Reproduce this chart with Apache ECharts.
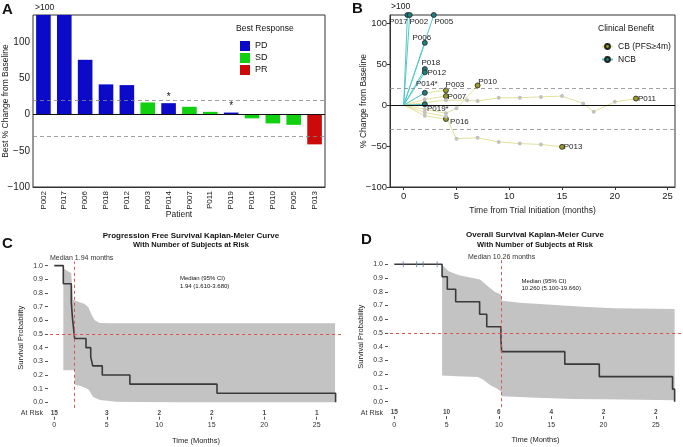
<!DOCTYPE html>
<html><head><meta charset="utf-8">
<script src="https://cdn.jsdelivr.net/npm/echarts@6/dist/echarts.min.js"></script>
<style>html,body{margin:0;padding:0;background:#fff}#c{width:683px;height:447px}</style>
</head><body><div id="c"></div>
<script>
// ---------- Panel A data ----------
const aPatients = ['P002','P017','P006','P018','P012','P003','P014','P007','P011','P019','P016','P010','P005','P013'];
const aChange   = [150,150,76,42,41,17,16,11,4,3,-5,-12,-14,-41]; // 150 = ">100" (clipped)
const aResponse = ['PD','PD','PD','PD','PD','SD','PD','SD','SD','PD','SD','SD','SD','PR'];
const aStarred  = ['P014','P019'];
const aYTicks   = [-100,-50,0,50,100];
const aRefLines = [20,-30];

// ---------- Panel B data ----------
const bPatients = ['P017','P002','P005','P006','P018','P012','P014','P019','P003','P007','P016','P010','P011','P013'];
const bLabels   = ['P017','P002','P005','P006','P018','P012','P014*','P019*','P003','P007','P016','P010','P011','P013'];
const bBenefit  = ['NCB','NCB','NCB','NCB','NCB','NCB','NCB','NCB','CB','CB','CB','CB','CB','CB'];
const bTimes = [
  [0,0.35],[0,0.57],[0,2.85],[0,2],[0,2],[0,2],[0,2],[0,2],
  [0,2,4],[0,2,4],[0,2,4],[0,2,4,5,7],
  [0,2,4,6,7,9,11,13,15,17,18,20,22],
  [0,2,4,5,7,9,11,13,15]
];
const bChanges = [
  [0,110],[0,110],[0,110],[0,76],[0,44],[0,40],[0,15],[0,1],
  [0,15,18],[0,7,11],[0,-13,-17],[0,-5,-10,-4,24],
  [0,3,6,6,5,9,9,10,11,2,-8,4,8],
  [0,-9,-14,-41,-40,-45,-47,-48,-51]
];
const bXTicks = [0,5,10,15,20,25];
const bYTicks = [-100,-50,0,50,100];
const bRefLines = [20,-30];

// ---------- Panel C data (PFS) ----------
const pfsT = [0,0.86,1.62,1.68,1.75,1.94,3.02,3.47,3.66,4.57,7.2,15.5,26.8];
const pfsS = [1,0.867,0.733,0.667,0.6,0.467,0.4,0.333,0.267,0.2,0.133,0.067,0];
const pfsHiT = [0.86,1.6,1.8,1.94,2.9,3.25,3.55,3.85,4.35,5.3,26.75];
const pfsHi  = [0.98,0.945,0.75,0.745,0.72,0.695,0.64,0.60,0.58,0.578,0.578];
const pfsLoT = [0.86,1.94,1.95,2.5,3.0,3.3,3.7,4.35,5.9,8,12,26.75];
const pfsLo  = [0.235,0.235,0.13,0.12,0.105,0.09,0.04,0.017,0.005,0.003,0.001,0];
const pfsMedian = 1.94;
const pfsCI = '1.94 (1.610-3.680)';
const atRiskT = [0,5,10,15,20,25];
const pfsAtRisk = [15,3,2,2,1,1];

// ---------- Panel D data (OS) ----------
const osT = [0,4.57,5.07,5.87,8.16,8.84,10.2,10.26,16.3,19.6,26.6,26.8];
const osS = [1,0.909,0.818,0.727,0.636,0.545,0.455,0.364,0.273,0.182,0.091,0];
const osCensor = [0.86,2.13,2.76,4.1];
const osHiT = [4.57,5.2,6.2,7.5,8.2,8.8,9.6,10.2,10.3,12,15,18,21,26.8];
const osHi  = [0.995,0.95,0.92,0.90,0.89,0.85,0.80,0.78,0.735,0.72,0.705,0.69,0.68,0.675];
const osLoT = [4.57,6,8.0,8.5,9.2,9.8,10.25,10.3,13,17,22,26.8];
const osLo  = [0.19,0.185,0.18,0.16,0.12,0.095,0.07,0.04,0.03,0.02,0.015,0.01];
const osMedian = 10.26;
const osCI = '10.260 (5.100-19.660)';
const osAtRisk = [15,10,6,4,2,2];
const kmYTicks = [0,0.1,0.2,0.3,0.4,0.5,0.6,0.7,0.8,0.9,1.0];

// ---------- styles ----------
const FONT = 'Liberation Sans, Arial, Helvetica, sans-serif';
const DARK = '#333';
const respColor = {PD:'#0a0ac8', SD:'#10d010', PR:'#cc0a0a'};
const benefitStyle = {
  'NCB': {line:'#52c9c9', fill:'#1f7f7f', name:'NCB'},
  'CB':  {line:'#e2e29a', fill:'#9a9a2a', name:'CB (PFS≥4m)'}
};
const bLabelOffset = {
  P017:[-9,7], P002:[9,7], P005:[10,7], P006:[-3,-5.5], P018:[6,-6], P012:[12,0],
  P014:[2,-9], P019:[13,4.5], P003:[9,-5.5], P007:[11,0.5], P016:[13.5,3],
  P010:[10,-4], P011:[11,0], P013:[11,0]
};
const minus = v => String(v).replace('-', '\u2212');

// ---------- Panel A series ----------
const aSeries = ['PD','SD','PR'].map((r, k) => ({
  type:'bar', name:r, xAxisIndex:0, yAxisIndex:0,
  barWidth:'70%', barGap:'-100%', clip:true,
  itemStyle:{color:respColor[r]},
  emphasis:{disabled:true},
  data: aChange.map((v,i) => {
    if (aResponse[i] !== r) return '-';
    if (aStarred.includes(aPatients[i])) {
      return {value:v, label:{show:true, position:'top', distance:1, formatter:'*', fontSize:10, color:'#111'}};
    }
    return v;
  }),
  markLine: k === 0 ? {
    silent:true, symbol:'none', label:{show:false},
    data: [{yAxis:0, lineStyle:{color:'#111', type:'solid', width:1}}]
      .concat(aRefLines.map(y => ({yAxis:y, lineStyle:{color:'#888', type:[4,3], width:0.8}})))
  } : undefined
}));

// ---------- Panel B series ----------
const bSeries = bPatients.map((p,i) => {
  const st = benefitStyle[bBenefit[i]];
  const t = bTimes[i], c = bChanges[i];
  return {
    type:'line', name: st.name, xAxisIndex:1, yAxisIndex:1,
    symbol:'circle', symbolSize:5, showAllSymbol:true, clip:false,
    z: bBenefit[i]==='NCB' ? 4 : 3,
    lineStyle:{color:st.line, width:1},
    itemStyle:{color:st.fill, borderColor:'#222', borderWidth:0.8},
    emphasis:{disabled:true},
    data: t.map((x,j) => {
      if (j === 0) return {value:[x,c[j]], symbol:'none'};
      if (j < t.length-1) return {value:[x,c[j]], symbolSize:4, itemStyle:{color:'#c2c2c2', borderWidth:0}};
      return {value:[x,c[j]], label:{show:true, position:'inside', offset:bLabelOffset[p],
              formatter:bLabels[i], fontSize:8, color:'#222', fontFamily:FONT}};
    }),
    markLine: i === 0 ? {
      silent:true, symbol:'none', label:{show:false},
      data: [{yAxis:0, lineStyle:{color:'#111', type:'solid', width:1}}]
        .concat(bRefLines.map(y => ({yAxis:y, lineStyle:{color:'#888', type:[4,3], width:0.8}})))
    } : undefined
  };
});

// ---------- KM helpers ----------
function bandSeries(ax, hiT, hi, loT, lo) {
  return {
    type:'custom', xAxisIndex:ax, yAxisIndex:ax, silent:true, z:1, clip:false,
    data:[[0,0]],
    renderItem:(params, api) => {
      const pts = [];
      hiT.forEach((t,i) => pts.push(api.coord([t, hi[i]])));
      for (let i = loT.length-1; i >= 0; i--) pts.push(api.coord([loT[i], lo[i]]));
      return {type:'polygon', shape:{points:pts}, style:{fill:'#c3c3c3'}};
    }
  };
}
function kmSeries(ax, T, S, median, labelDx) {
  return {
    type:'line', xAxisIndex:ax, yAxisIndex:ax, step:'end', symbol:'none', z:3,
    lineStyle:{color:'#3a3a3a', width:1.6}, emphasis:{disabled:true},
    data: T.map((t,i) => [t, S[i]]),
    markLine:{
      silent:true, symbol:'none',
      data:[
        [{coord:[-0.4,0.5], lineStyle:{color:'#d9534f', type:[3,3], width:1}, label:{show:false}},
         {coord:[27.5,0.5]}],
        [{coord:[median,-0.04], lineStyle:{color:'#d9534f', type:[3,3], width:1},
          label:{show:true, position:'end', formatter:'Median ' + median + ' months',
                 fontSize:7, color:'#333', fontFamily:FONT, distance:0, offset:[labelDx,0]}},
         {coord:[median,1.03]}]
      ]
    }
  };
}
function atRiskSeries(ax, counts) {
  return {
    type:'scatter', xAxisIndex:ax, yAxisIndex:ax, symbolSize:0, silent:true,
    data: atRiskT.map((t,i) => ({value:[t,-0.08], label:{show:true, position:'inside',
      formatter:String(counts[i]), fontSize:6.5, fontWeight:'bold', color:'#111', fontFamily:FONT}}))
  };
}
function kmXAxis(grid) {
  return {
    type:'value', gridIndex:grid, min:-0.6, max:27.6,
    axisLine:{show:false, onZero:false}, splitLine:{show:false},
    axisTick:{show:true, customValues:atRiskT, length:3, lineStyle:{color:'#555'}},
    axisLabel:{customValues:atRiskT, fontSize:7, color:'#333', margin:5},
    name:'Time (Months)', nameLocation:'middle', nameGap:20, nameMoveOverlap:false,
    nameTextStyle:{fontSize:7.5, color:'#222'}
  };
}
function kmYAxis(grid) {
  return {
    type:'value', gridIndex:grid, min:-0.105, max:1.05,
    axisLine:{show:false, onZero:false}, splitLine:{show:false},
    axisTick:{show:true, customValues:kmYTicks, length:3, lineStyle:{color:'#555'}},
    axisLabel:{customValues:[-0.08].concat(kmYTicks), fontSize:7, color:'#333', margin:5,
      formatter: v => v < 0 ? 'At Risk' : v.toFixed(1)},
    name:'Survival Probability', nameLocation:'middle', nameGap:23, nameMoveOverlap:false,
    nameTextStyle:{fontSize:7.5, color:'#222'}
  };
}

const txt = (x, y, text, size, weight, align) => ({
  type:'text', x, y, silent:true,
  style:{text, font:(weight||'normal') + ' ' + size + 'px ' + FONT, fill:'#111',
         align:align||'left', verticalAlign:'middle'}
});

const option = {
  animation:false,
  textStyle:{fontFamily:FONT},
  grid:[
    {left:33, top:15, width:292, height:172, show:true, borderColor:DARK, borderWidth:1},
    {left:390, top:15, width:285, height:172, show:true, borderColor:DARK, borderWidth:1},
    {left:48, top:258.8, width:296, height:157.9},
    {left:388, top:257.4, width:296, height:158.7}
  ],
  xAxis:[
    {type:'category', gridIndex:0, data:aPatients,
     axisLine:{onZero:false, lineStyle:{color:DARK}}, axisTick:{alignWithLabel:true, length:3, lineStyle:{color:DARK}},
     axisLabel:{rotate:90, fontSize:8, color:'#222', margin:4},
     name:'Patient', nameLocation:'middle', nameGap:23, nameMoveOverlap:false,
     nameTextStyle:{fontSize:8.5, color:'#222'}},
    {type:'value', gridIndex:1, min:-1.3, max:25.7,
     axisLine:{onZero:false, lineStyle:{color:DARK}}, splitLine:{show:false},
     axisTick:{customValues:bXTicks, length:3, lineStyle:{color:DARK}},
     axisLabel:{customValues:bXTicks, fontSize:9.5, color:'#222', margin:4},
     name:'Time from Trial Initiation (months)', nameLocation:'middle', nameGap:19, nameMoveOverlap:false,
     nameTextStyle:{fontSize:8.5, color:'#222'}},
    kmXAxis(2), kmXAxis(3)
  ],
  yAxis:[
    {type:'value', gridIndex:0, min:-100, max:138,
     axisLine:{onZero:false, lineStyle:{color:DARK}}, splitLine:{show:false},
     axisTick:{customValues:aYTicks, length:3, lineStyle:{color:DARK}},
     axisLabel:{customValues:aYTicks, fontSize:10, color:'#222', margin:3, formatter:minus},
     name:'Best % Change from Baseline', nameLocation:'middle', nameGap:22.5, nameMoveOverlap:false,
     nameTextStyle:{fontSize:8.5, color:'#222'}},
    {type:'value', gridIndex:1, min:-100, max:110,
     axisLine:{onZero:false, lineStyle:{color:DARK}}, splitLine:{show:false},
     axisTick:{customValues:bYTicks, length:3, lineStyle:{color:DARK}},
     axisLabel:{customValues:bYTicks, fontSize:9.5, color:'#222', margin:3, formatter:minus},
     name:'% Change from Baseline', nameLocation:'middle', nameGap:22, nameMoveOverlap:false,
     nameTextStyle:{fontSize:8.5, color:'#222'}},
    kmYAxis(2), kmYAxis(3)
  ],
  legend:[
    {data:['PD','SD','PR'], orient:'vertical', left:235, top:36, itemWidth:10, itemHeight:10, itemGap:2,
     icon:'rect', textStyle:{fontSize:9, color:'#111'}, selectedMode:false},
    {data:['CB (PFS≥4m)','NCB'], orient:'vertical', left:596, top:37, itemWidth:11, itemHeight:6, itemGap:4,
     textStyle:{fontSize:8.5, color:'#111'}, selectedMode:false}
  ],
  graphic:[
    txt(2, 10, 'A', 15, 'bold'),
    txt(352, 9, 'B', 15, 'bold'),
    txt(2, 244, 'C', 15, 'bold'),
    txt(361, 240, 'D', 15, 'bold'),
    txt(35, 7.5, '>100', 8.5),
    txt(391, 7, '>100', 8.5),
    txt(236, 29, 'Best Response', 8.5),
    txt(598, 29, 'Clinical Benefit', 8.5),
    txt(191, 236, 'Progression Free Survival Kaplan-Meier Curve', 8, 'bold', 'center'),
    txt(191, 245, 'With Number of Subjects at Risk', 7.5, 'bold', 'center'),
    txt(535, 235, 'Overall Survival Kaplan-Meier Curve', 8, 'bold', 'center'),
    txt(535, 245, 'With Number of Subjects at Risk', 7.5, 'bold', 'center'),
    txt(180, 278.5, 'Median (95% CI)', 6),
    txt(180, 286, pfsCI, 6),
    txt(521.5, 281, 'Median (95% CI)', 6),
    txt(521.5, 288, osCI, 6)
  ],
  series: [].concat(
    aSeries, bSeries,
    [bandSeries(2, pfsHiT, pfsHi, pfsLoT, pfsLo), kmSeries(2, pfsT, pfsS, pfsMedian, 7), atRiskSeries(2, pfsAtRisk)],
    [bandSeries(3, osHiT, osHi, osLoT, osLo), kmSeries(3, osT, osS, osMedian, 0), atRiskSeries(3, osAtRisk),
     {type:'scatter', xAxisIndex:3, yAxisIndex:3, symbol:'rect', symbolSize:[1,6], z:4, silent:true,
      itemStyle:{color:'#5f7fb3'}, data: osCensor.map(t => [t, 1])}]
  )
};
const chart = echarts.init(document.getElementById('c'), null, {renderer:'canvas'});
chart.setOption(option);
</script></body></html>
